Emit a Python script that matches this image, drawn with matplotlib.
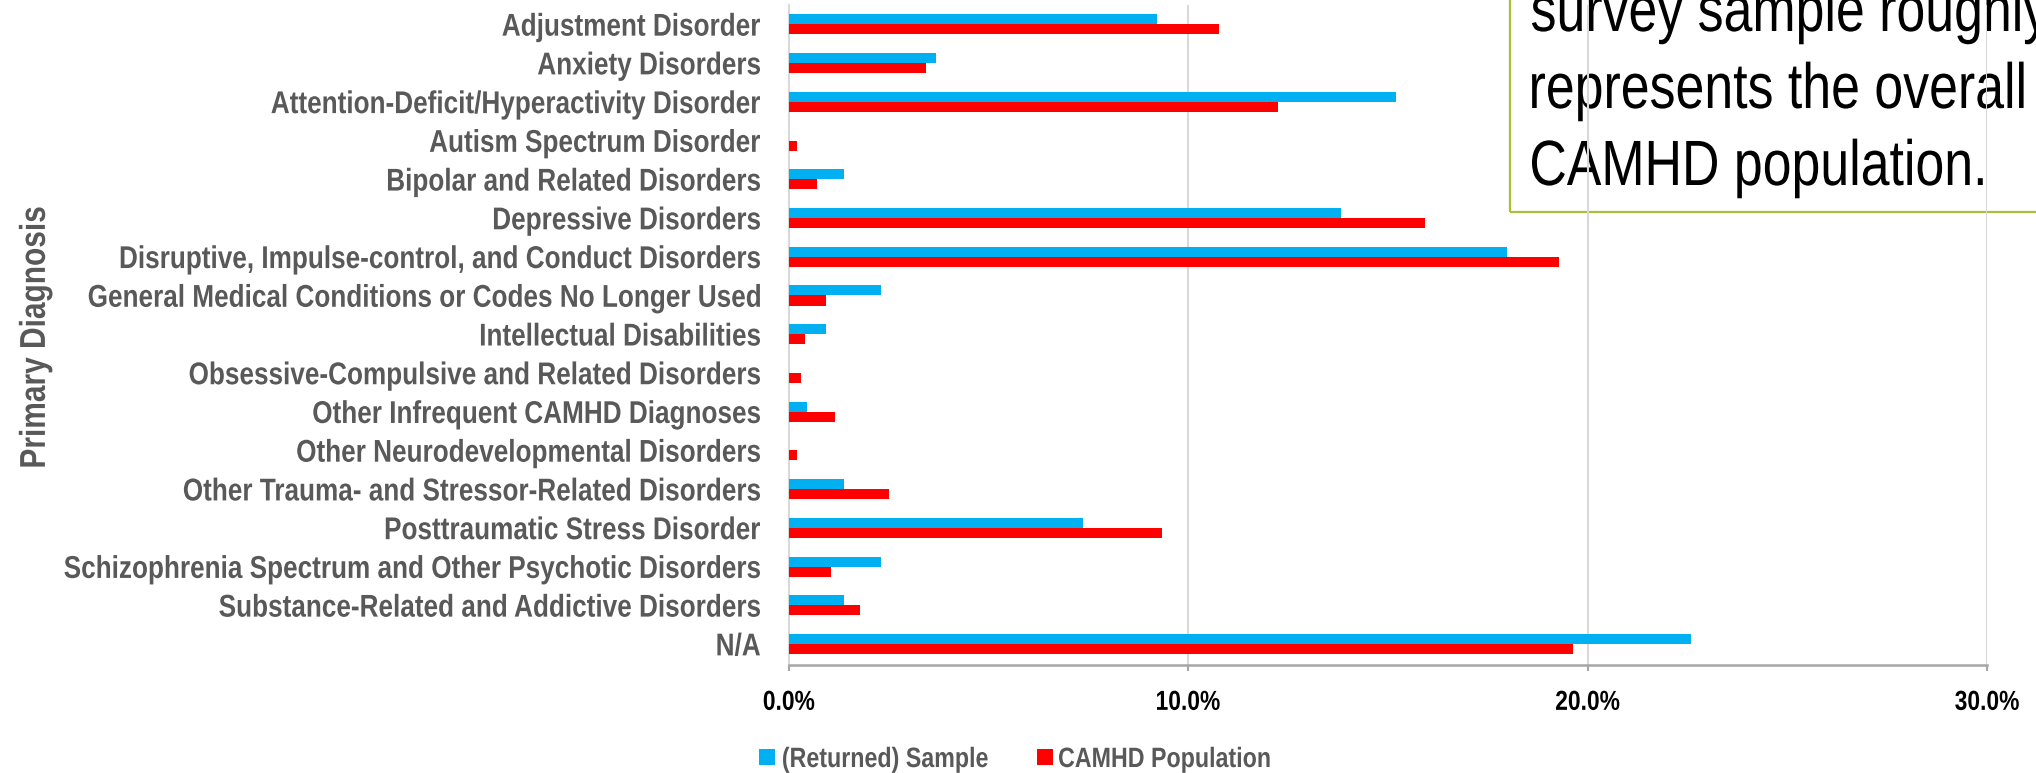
import matplotlib.pyplot as plt
from matplotlib.font_manager import FontProperties
from matplotlib.patches import PathPatch, Rectangle
from matplotlib.textpath import TextPath
from matplotlib.transforms import Affine2D, ScaledTranslation, IdentityTransform

# Primary diagnosis share, returned survey sample vs. whole CAMHD population (%)
diagnoses = [
    "Adjustment Disorder",
    "Anxiety Disorders",
    "Attention-Deficit/Hyperactivity Disorder",
    "Autism Spectrum Disorder",
    "Bipolar and Related Disorders",
    "Depressive Disorders",
    "Disruptive, Impulse-control, and Conduct Disorders",
    "General Medical Conditions or Codes No Longer Used",
    "Intellectual Disabilities",
    "Obsessive-Compulsive and Related Disorders",
    "Other Infrequent CAMHD Diagnoses",
    "Other Neurodevelopmental Disorders",
    "Other Trauma- and Stressor-Related Disorders",
    "Posttraumatic Stress Disorder",
    "Schizophrenia Spectrum and Other Psychotic Disorders",
    "Substance-Related and Addictive Disorders",
    "N/A",
]
sample_pct = [9.22, 3.69, 15.21, 0.0, 1.38, 13.82, 17.97, 2.30, 0.92, 0.0,
              0.46, 0.0, 1.38, 7.37, 2.30, 1.38, 22.58]
population_pct = [10.77, 3.44, 12.25, 0.19, 0.70, 15.92, 19.28, 0.92, 0.40, 0.30,
                  1.15, 0.19, 2.51, 9.33, 1.04, 1.78, 19.63]
series_names = ["(Returned) Sample", "CAMHD Population"]
note_lines = ["survey sample roughly", "represents the overall", "CAMHD population."]
x_ticks = [0, 10, 20, 30]

BLUE = "#00B0F0"
RED = "#FF0000"
GRAY = "#595959"

W, H = 2036, 773
fig = plt.figure(figsize=(W / 100, H / 100), dpi=100)
pix = IdentityTransform()


def narrow_text(x, y, s, px, trans, ha="left", va="baseline", weight="bold",
                color=GRAY, rotation=0, squeeze=0.83, dx=0, dy=0, zorder=3):
    """Arial-Narrow-like text: Liberation Sans outlines squeezed horizontally.
    px is the em size in pixels; (x, y) is given in `trans` coordinates."""
    prop = FontProperties(family="Liberation Sans", weight=weight)
    tp = TextPath((0, 0), s, size=px, prop=prop)
    bb = tp.get_extents()
    ox = {"left": -bb.x0, "right": -bb.x1, "center": -(bb.x0 + bb.x1) / 2}[ha]
    oy = {"baseline": 0, "center": -0.716 * px / 2}[va]
    tr = (Affine2D().translate(ox, oy).scale(squeeze, 1).rotate_deg(rotation)
          .translate(dx, dy) + ScaledTranslation(x, y, trans))
    patch = PathPatch(tp, transform=tr, facecolor=color, edgecolor="none",
                      lw=0, zorder=zorder)
    fig.add_artist(patch)
    return patch


ax = fig.add_axes([789 / W, 1 - 665 / H, (1987 - 789) / W, (665 - 5) / H])
ax.set_facecolor("none")

ypos = list(range(len(diagnoses)))
bh = 0.26
ax.barh([y - bh / 2 for y in ypos], sample_pct, height=bh, color=BLUE,
        label=series_names[0], zorder=3)
ax.barh([y + bh / 2 for y in ypos], population_pct, height=bh, color=RED,
        label=series_names[1], zorder=3)

ax.set_ylim(16.54, -0.5)
ax.set_xlim(0, 30)
ax.set_xticks(x_ticks)
ax.set_xticklabels([])
ax.set_yticks(ypos)
ax.set_yticklabels([])
ax.grid(axis="x", color="#D9D9D9", linewidth=1.5, zorder=0)
ax.set_axisbelow(True)
ax.tick_params(axis="y", length=0)
ax.tick_params(axis="x", length=4.5, width=1.5, color="#A6A6A6")

for side in ("top", "right"):
    ax.spines[side].set_visible(False)
ax.spines["left"].set_color("#D9D9D9")
ax.spines["left"].set_linewidth(1.5)
ax.spines["bottom"].set_color("#A6A6A6")
ax.spines["bottom"].set_linewidth(1.8)

# category labels, right-aligned against the axis
ytrans = ax.get_yaxis_transform()
for y, name in zip(ypos, diagnoses):
    narrow_text(0, y, name, 31.5, ytrans, ha="right", va="center", dx=-29)

# percentage tick labels under the axis
xtrans = ax.get_xaxis_transform()
for v in x_ticks:
    narrow_text(v, 0, f"{v:.1f}%", 27.5, xtrans, ha="center", va="center",
                color="black", dy=-35)

# axis title
narrow_text(32, H - 337, "Primary Diagnosis", 36, pix, ha="center",
            va="center", rotation=90)

# legend
for (sx, tx), name, col in zip([(759, 783), (1037, 1059)], series_names, [BLUE, RED]):
    fig.add_artist(Rectangle((sx, H - 757 - 8), 16, 16, transform=pix,
                             facecolor=col, edgecolor="none"))
    narrow_text(tx, H - 757, name, 28, pix, ha="left", va="center")

# callout box sitting behind the plot, cut off by the figure edge
fig.add_artist(Rectangle((1510, H - 212), 700, 400, transform=pix, fill=False,
                         edgecolor="#A8BF38", linewidth=1.6, zorder=-3))
for i, line in enumerate(note_lines):
    narrow_text(1532, H - (31 + 77 * i), line, 64, pix, weight="normal",
                color="black", squeeze=0.81, zorder=-2)

fig.savefig("out.png", dpi=100)
